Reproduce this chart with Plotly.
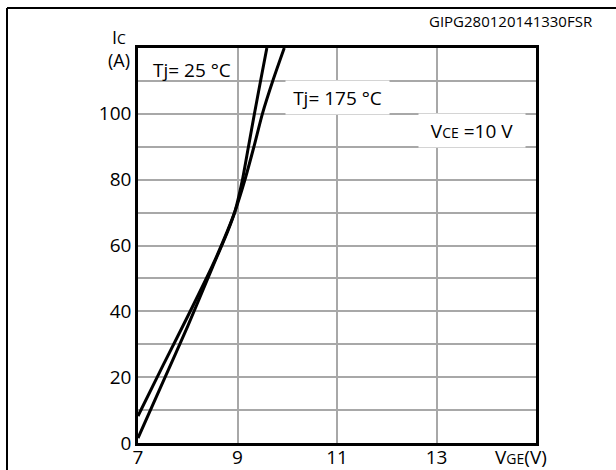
import plotly.graph_objects as go

# Transfer characteristics: collector current vs gate-emitter voltage
vge_25 = [7.0, 7.5, 8.0, 8.5, 8.8, 8.95, 9.1, 9.22, 9.34, 9.47, 9.59]
ic_25 = [1.5, 18.5, 35.5, 53.5, 64.2, 70.4, 80.0, 90.0, 100.0, 110.5, 120.0]

vge_175 = [7.0, 7.5, 8.0, 8.5, 8.8, 8.95, 9.14, 9.33, 9.5, 9.72, 9.94]
ic_175 = [8.2, 23.5, 38.5, 54.0, 64.5, 70.4, 79.5, 90.0, 100.0, 110.5, 120.0]

x_ticks = [7, 9, 11, 13]
y_ticks = [0, 20, 40, 60, 80, 100]

FONT = "Open Sans"
W, H = 616, 470
ML, MR, MT, MB = 138, 80, 48, 27
PW, PH = W - ML - MR, H - MT - MB


def px(xp):
    return (xp - ML) / PW


def py(yp):
    return (H - MB - yp) / PH


fig = go.Figure()
for vx, iy, name in [(vge_25, ic_25, "Tj= 25 °C"), (vge_175, ic_175, "Tj= 175 °C")]:
    fig.add_trace(go.Scatter(
        x=vx, y=iy, mode="lines", name=name,
        line=dict(color="black", width=3, shape="spline", smoothing=0.6),
        showlegend=False, hoverinfo="skip",
    ))

grid = dict(showgrid=True, gridcolor="#a8a8a8", gridwidth=1.5,
            showline=True, linecolor="black", linewidth=2.5, mirror=True,
            ticks="", zeroline=False, automargin=False,
            tickfont=dict(family=FONT, size=19, color="black"))

fig.update_xaxes(range=[7, 15], tickvals=x_ticks,
                 ticktext=[str(v) for v in x_ticks],
                 ticklabelstandoff=-5, **grid)
fig.update_yaxes(range=[0, 120], tickvals=y_ticks,
                 ticktext=[str(v) for v in y_ticks],
                 minor=dict(tick0=0, dtick=10, showgrid=True,
                            gridcolor="#a8a8a8", gridwidth=1.5),
                 **grid)

small = "<span style='font-size:14px'>{}</span>"
base_font = dict(family=FONT, size=19, color="black")
annotations = [
    dict(x=8.08, y=113.4, xref="x", yref="y", text="Tj= 25 °C",
         showarrow=False, xanchor="center", yanchor="middle", font=base_font),
    dict(x=11.0, y=105, xref="x", yref="y", text="Tj= 175 °C",
         showarrow=False, bgcolor="white", width=101, height=31,
         xanchor="center", yanchor="middle", font=base_font),
    dict(x=13.72, y=95, xref="x", yref="y", text="V" + small.format("CE") + " =10 V",
         showarrow=False, bgcolor="white", width=104, height=31,
         xanchor="center", yanchor="middle", font=base_font),
    dict(x=14.69, y=py(457), xref="x", yref="paper",
         text="V" + small.format("GE") + "(V)",
         showarrow=False, xanchor="center", yanchor="middle", font=base_font),
    # y-axis title: current symbol over its unit
    dict(x=px(119), y=py(48), xref="paper", yref="paper",
         text="I" + small.format("C") + "<br>(A)",
         showarrow=False, xanchor="center", yanchor="middle", align="center",
         font=dict(family=FONT, size=18, color="black")),
    dict(x=px(511), y=py(21), xref="paper", yref="paper",
         text="GIPG280120141330FSR", showarrow=False,
         xanchor="center", yanchor="middle",
         font=dict(family=FONT, size=15, color="black")),
]

# outer frame edges (left and top)
shapes = [
    dict(type="line", xref="paper", yref="paper",
         x0=px(7), x1=px(7), y0=py(8), y1=py(480),
         line=dict(color="black", width=2)),
    dict(type="line", xref="paper", yref="paper",
         x0=px(7), x1=px(630), y0=py(8), y1=py(8),
         line=dict(color="black", width=2)),
]

fig.update_layout(
    width=W, height=H,
    margin=dict(l=ML, r=MR, t=MT, b=MB, autoexpand=False),
    paper_bgcolor="white", plot_bgcolor="white",
    annotations=annotations, shapes=shapes,
    font=dict(family=FONT, color="black"),
)

fig.write_html("out.html")
